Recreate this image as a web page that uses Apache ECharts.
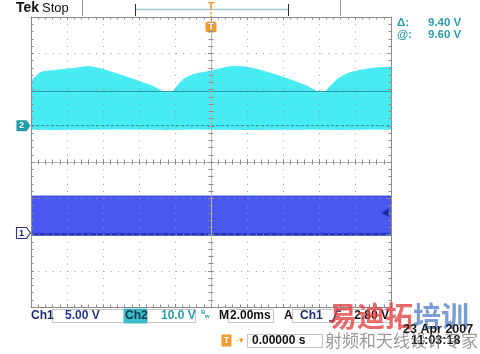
<!DOCTYPE html>
<html>
<head>
<meta charset="utf-8">
<script src="https://cdn.jsdelivr.net/npm/echarts@6/dist/echarts.min.js"></script>
<style>
html, body { margin: 0; padding: 0; background: #fff; }
#chart { width: 480px; height: 354px; }
</style>
</head>
<body>
<div id="chart"></div>
<script>
// time base 2.00 ms/div, trigger in the middle of the screen
const ch2Time = [-10, -9.5, -8.8, -7.8, -6.8, -5.1, -3.2, -2.7, -2.45, -2.2, -1.9, -1.55, -1.0, -0.2,
    0.5, 1.1, 1.9, 3.55, 5.3, 5.8, 6.0, 6.3, 6.6, 7.0, 7.55, 8.3, 9.1, 10];
const ch2Top = [12.1, 14.6, 15.2, 15.7, 16.3, 14.1, 10.8, 9.4, 9.1, 9.2, 10.8, 12.7, 14.1, 14.9,
    15.7, 16.3, 16.2, 14.1, 11.0, 9.6, 9.1, 9.2, 10.8, 12.7, 14.3, 15.3, 15.9, 16.2];
const ch2Bottom = [-1.1, -1.1, -1.2, -1.1, -1.1, -1.0, -1.1, -1.1, -1.2, -1.1, -1.1, -1.1, -1.0, -1.1,
    -1.1, -1.1, -1.2, -1.1, -1.1, -1.0, -1.1, -1.1, -1.1, -1.2, -1.1, -1.1, -1.0, -1.1];
const ch1Time = [-10, 10];
const ch1Top = [5.1, 5.1];
const ch1Bottom = [-0.2, -0.2];
const ch2Cursors = [9.6, 0.2];
const ch1TriggerLevel = 2.8;

const headText = ['Tek', 'Stop'];
const cursorText = [['\u0394:', '9.40 V'], ['@:', '9.60 V']];
const readText = ['Ch1', '5.00 V', 'Ch2', '10.0 V', 'M', '2.00ms', 'A', 'Ch1', '2.80 V', '0.00000 s'];
const dateText = ['23 Apr 2007', '11:03:18'];
const markText = ['易迪拓', '培训', '射频和天线设计专家'];

const grey = '#8c8c8c';
const dotted = { color: '#9c9c9c', type: [1, 6.25], width: 1 };
const font = '"Liberation Sans", "DejaVu Sans", sans-serif';

function pairs(xs, ys) {
    return xs.map((x, i) => [x, ys[i]]);
}

function edgeAxis(range, pos, inside, extra) {
    return Object.assign({
        type: 'value',
        min: range[0],
        max: range[1],
        interval: range[2],
        position: pos,
        z: 5,
        axisLabel: { show: false },
        splitLine: { show: false },
        axisLine: { onZero: false, lineStyle: { color: grey } },
        axisTick: { inside: inside, length: 3, lineStyle: { color: grey } },
        minorTick: { show: true, splitNumber: 5, length: 2.5, lineStyle: { color: grey } }
    }, extra);
}

const tRange = [-10, 10, 2];
const dRange = [-4, 4, 1];
const centreLine = { onZero: true, onZeroAxisIndex: 0, lineStyle: { color: '#b4b4b4' } };
const xAxes = [
    edgeAxis(tRange, 'bottom', true, { splitLine: { show: true, lineStyle: dotted } }),
    edgeAxis(tRange, 'top', true),
    edgeAxis(tRange, 'bottom', true, { axisLine: centreLine }),
    edgeAxis(tRange, 'bottom', false, { axisLine: centreLine })
];
const yAxes = [
    edgeAxis(dRange, 'left', true, { splitLine: { show: true, lineStyle: dotted } }),
    edgeAxis(dRange, 'right', true),
    edgeAxis(dRange, 'left', true, { axisLine: centreLine }),
    edgeAxis(dRange, 'left', false, { axisLine: centreLine }),
    // Ch2 10 V/div, ground one division above centre
    { type: 'value', min: -50, max: 30, show: false },
    // Ch1 5 V/div, ground about two divisions below centre
    { type: 'value', min: -10.2, max: 29.8, show: false }
];

const cyan = '#47ecf2';
const blue = '#4858f0';
const teal = '#2a9ca8';
const navy = '#1c2a70';
const orange = '#f29a30';

function txt(x, y, text, style) {
    return {
        type: 'text', x: x, y: y, z: 10,
        style: Object.assign({ text: text, font: 'bold 12px ' + font, fill: navy, align: 'left', verticalAlign: 'middle' }, style)
    };
}
function box(x, y, w, h, style) {
    return { type: 'rect', z: 9, shape: { x: x, y: y, width: w, height: h }, style: Object.assign({ fill: 'none', stroke: '#c4c4c4', lineWidth: 1 }, style) };
}
function seg(x1, y1, x2, y2, style) {
    return { type: 'line', z: 9, shape: { x1: x1, y1: y1, x2: x2, y2: y2 }, style: Object.assign({ stroke: '#999', lineWidth: 1 }, style) };
}

const graphics = [
    txt(16, 8, headText[0], { font: 'bold 14px ' + font, fill: '#111' }),
    txt(42, 8, headText[1], { font: '13px ' + font, fill: '#111' }),
    seg(82.5, 0, 82.5, 16),
    seg(340.5, 0, 340.5, 16),
    seg(135, 9.5, 288, 9.5, { stroke: '#9ccbd3', lineWidth: 1.5 }),
    seg(135.5, 4, 135.5, 16, { stroke: '#333' }),
    seg(288.5, 4, 288.5, 16, { stroke: '#333' }),
    txt(211, 7, 'T', { font: 'bold 11px ' + font, fill: orange, align: 'center' }),
    seg(211, 12, 211, 20, { stroke: orange, lineDash: [2, 1.5], lineWidth: 1.5 }),
    txt(397, 23, cursorText[0][0], { fill: teal, font: 'bold 11.5px ' + font }),
    txt(428, 23, cursorText[0][1], { fill: teal, font: 'bold 11.5px ' + font }),
    txt(397, 34.5, cursorText[1][0], { fill: teal, font: 'bold 11.5px ' + font }),
    txt(428, 34.5, cursorText[1][1], { fill: teal, font: 'bold 11.5px ' + font }),
    // readout line
    txt(31, 316, readText[0]),
    box(52.5, 309.5, 72, 13),
    txt(65, 316, readText[1], { fill: '#24388e' }),
    box(124, 309, 23, 14, { fill: '#3cbcc6', stroke: '#3cbcc6' }),
    txt(125, 316, readText[2], { fill: '#0e3a4c' }),
    box(147.5, 309.5, 48, 13),
    txt(161, 316, readText[3], { fill: teal }),
    txt(201, 312, 'B', { font: 'bold 6px ' + font, fill: teal }),
    txt(205, 316, 'w', { font: 'bold 6px ' + font, fill: teal }),
    txt(219, 316, readText[4], { fill: '#111' }),
    box(228.5, 309.5, 45, 13),
    txt(230, 316, readText[5], { fill: '#111' }),
    txt(284, 316, readText[6], { fill: '#111' }),
    box(292.5, 309.5, 98, 13),
    txt(300, 316, readText[7]),
    { type: 'polyline', z: 10, shape: { points: [[329, 321], [333, 321], [337, 311], [341, 311]] }, style: { stroke: navy, lineWidth: 1.6, fill: 'none' } },
    txt(389, 316, readText[8], { align: 'right', fill: '#111' }),
    // time position line
    box(222, 335, 9, 11, { fill: orange, stroke: orange }),
    txt(226.5, 341, 'T', { font: 'bold 9px ' + font, fill: '#fff', align: 'center' }),
    txt(232, 340, '\u2192', { font: 'bold 8px ' + font, fill: orange }),
    txt(239, 341, '\u25BE', { font: 'bold 9px ' + font, fill: orange }),
    box(247.5, 334.5, 75, 13),
    txt(252, 341, readText[9], { fill: '#111' }),
    // watermark
    txt(329, 316, markText[0], { font: 'bold 28px "Noto Sans CJK SC"', fill: 'rgba(226,64,64,0.78)' }),
    txt(413, 316, markText[1], { font: 'bold 28px "Noto Sans CJK SC"', fill: 'rgba(70,118,196,0.72)' }),
    txt(403, 330, dateText[0], { font: 'bold 12.5px ' + font, fill: '#1a1a1a' }),
    txt(411, 341, dateText[1], { font: 'bold 12.5px ' + font, fill: '#1a1a1a' }),
    txt(325, 341, markText[2], { font: '17px "Noto Sans CJK SC"', fill: 'rgba(120,120,120,0.75)' })
];

const chMarker = 'path://M0,0H10L14,5.5L10,11H0Z';

// each band: upper edge filled down to the floor, then the lower edge masks it with white
const option = {
    animation: false,
    backgroundColor: '#fff',
    grid: { left: 31, top: 17, width: 360, height: 290, containLabel: false },
    xAxis: xAxes,
    yAxis: yAxes,
    series: [
        {
            name: 'Ch2', type: 'line', xAxisIndex: 0, yAxisIndex: 4,
            symbol: 'none', smooth: 0.25,
            lineStyle: { color: cyan, width: 1 },
            areaStyle: { color: cyan, opacity: 1, origin: 'start' },
            data: pairs(ch2Time, ch2Top),
            markLine: {
                silent: true, symbol: 'none', label: { show: false },
                lineStyle: { color: teal, width: 1, type: 'solid' },
                data: [
                    { yAxis: ch2Cursors[0] },
                    { yAxis: ch2Cursors[1], lineStyle: { type: [3, 2], width: 1.2 } }
                ]
            },
            markPoint: {
                silent: true,
                data: [
                    {
                        coord: [-10, 0], symbol: chMarker, symbolSize: [14, 11], symbolOffset: [-7.5, 0],
                        itemStyle: { color: '#1f9ca6' },
                        label: { show: true, formatter: '2', color: '#fff', fontSize: 9, fontWeight: 'bold', offset: [-2, 0] }
                    },
                    {
                        coord: [0, 30], symbol: 'roundRect', symbolSize: [11, 11], symbolOffset: [0, 10],
                        itemStyle: { color: orange },
                        label: { show: true, formatter: 'T', color: '#fff', fontSize: 9, fontWeight: 'bold' }
                    }
                ]
            }
        },
        {
            name: 'ch2 low', type: 'line', xAxisIndex: 0, yAxisIndex: 4,
            symbol: 'none', silent: true,
            lineStyle: { width: 0 },
            areaStyle: { color: '#fff', opacity: 1, origin: 'start' },
            data: pairs(ch2Time, ch2Bottom)
        },
        {
            name: 'Ch1', type: 'line', xAxisIndex: 0, yAxisIndex: 5,
            symbol: 'none',
            lineStyle: { color: '#3848e0', width: 1 },
            areaStyle: { color: blue, opacity: 1, origin: 'start' },
            data: pairs(ch1Time, ch1Top)
        },
        {
            name: 'ch1 low', type: 'line', xAxisIndex: 0, yAxisIndex: 5,
            symbol: 'none', silent: true,
            lineStyle: { color: '#2232b8', width: 2.5 },
            areaStyle: { color: '#fff', opacity: 1, origin: 'start' },
            data: pairs(ch1Time, ch1Bottom),
            markPoint: {
                silent: true,
                data: [
                    {
                        coord: [-10, 0], symbol: chMarker, symbolSize: [14, 11], symbolOffset: [-7.5, 0],
                        itemStyle: { color: '#fff', borderColor: '#2a3a80', borderWidth: 1 },
                        label: { show: true, formatter: '1', color: navy, fontSize: 9, fontWeight: 'bold', offset: [-2, 0] }
                    },
                    {
                        coord: [10, ch1TriggerLevel], symbol: 'path://M0,5L8,0V10Z', symbolSize: [7, 8], symbolOffset: [-6, 0],
                        itemStyle: { color: '#1a2aa0' }, label: { show: false }
                    }
                ]
            }
        }
    ],
    graphic: graphics
};

const chart = echarts.init(document.getElementById('chart'), null, { renderer: 'canvas' });
chart.setOption(option);
</script>
</body>
</html>
